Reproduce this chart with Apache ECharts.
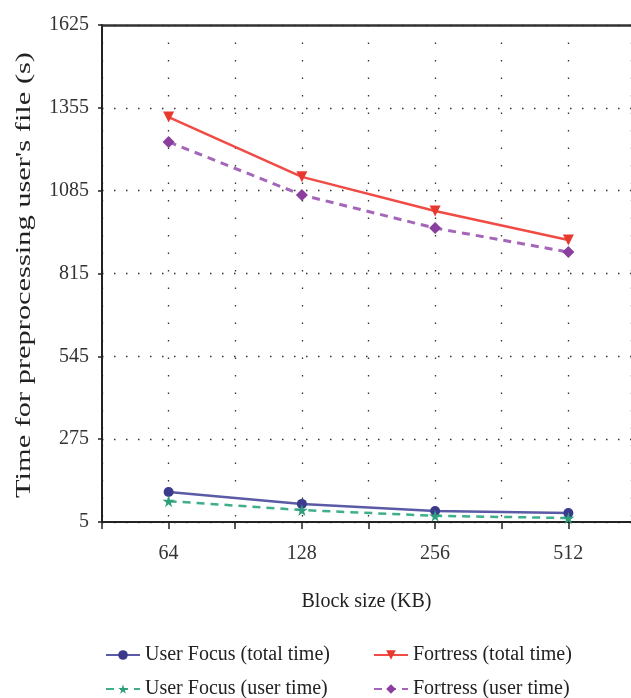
<!DOCTYPE html>
<html><head><meta charset="utf-8">
<script src="https://cdn.jsdelivr.net/npm/echarts@6/dist/echarts.min.js"></script>
<style>html,body{margin:0;padding:0;background:#fff}#c{width:631px;height:698px}</style>
</head><body><div id="c"></div>
<script>
const categories = ['64', '128', '256', '512'];
const yTicks = [5, 275, 545, 815, 1085, 1355, 1625];
const ufTotal = [103, 64, 41, 34];
const ufUser = [73, 44, 25, 18];
const fTotal = [1325, 1130, 1019, 924];
const fUser = [1244, 1071, 963, 885];
const yName = "Time for preprocessing user's file (s)";

const font = 'Liberation Serif';
const toPts = arr => arr.map((v, i) => [i + 1, v]);

const chart = echarts.init(document.getElementById('c'), null, {renderer: 'canvas'});
const legendBase = {
  orient: 'horizontal', itemWidth: 34, itemHeight: 12, itemGap: 10,
  textStyle: {fontFamily: font, fontSize: 20, color: '#222'}
};
chart.setOption({
  animation: false,
  backgroundColor: '#fff',
  grid: {left: 102, top: 25, right: 0, bottom: 176},
  graphic: [{
    type: 'text', x: 25, y: 275, rotation: Math.PI / 2, scaleX: 1.52, scaleY: 1,
    style: {text: yName, fontFamily: font, fontSize: 20, fill: '#222', align: 'center', verticalAlign: 'middle'}
  }],
  legend: [
    Object.assign({}, legendBase, {left: 100, top: 640, data: ['User Focus (total time)']}),
    Object.assign({}, legendBase, {left: 368, top: 640, data: ['Fortress (total time)']}),
    Object.assign({}, legendBase, {left: 100, top: 674, data: ['User Focus (user time)']}),
    Object.assign({}, legendBase, {left: 368, top: 674, data: ['Fortress (user time)']})
  ],
  xAxis: [{
    type: 'value', min: 0.5, max: 4.47, interval: 0.5,
    name: 'Block size (KB)', nameLocation: 'middle', nameGap: 70,
    nameTextStyle: {fontFamily: font, fontSize: 20, color: '#222'},
    axisLine: {lineStyle: {color: '#222', width: 2}},
    axisTick: {show: true, inside: false, length: 7, lineStyle: {color: '#222', width: 1.5}},
    axisLabel: {fontFamily: font, fontSize: 20, color: '#333', margin: 22,
      showMaxLabel: false,
      formatter: v => (Number.isInteger(v) && v >= 1 && v <= 4) ? categories[v - 1] : ''},
    splitLine: {show: true, lineStyle: {color: '#333', type: [1.5, 16], width: 1.3}}
  }, {
    type: 'value', position: 'top', min: 0.5, max: 4.47,
    axisLine: {show: true, onZero: false, lineStyle: {color: '#333', width: 2.5}},
    axisTick: {show: false}, axisLabel: {show: false}, splitLine: {show: false}
  }],
  yAxis: {
    type: 'value', min: yTicks[0], max: yTicks[yTicks.length - 1], interval: yTicks[1] - yTicks[0],
    axisLine: {show: true, lineStyle: {color: '#222', width: 2}},
    axisTick: {show: true, inside: false, length: 4, lineStyle: {color: '#222', width: 1.5}},
    axisLabel: {fontFamily: font, fontSize: 20, color: '#333', margin: 13, formatter: v => String(v)},
    splitLine: {show: true, lineStyle: {color: '#333', type: [1.5, 10.5], width: 1.4}}
  },
  series: [
    {name: 'User Focus (total time)', type: 'line', data: toPts(ufTotal),
     symbol: 'circle', symbolSize: 10,
     lineStyle: {color: '#5b5aa6', width: 2.5}, itemStyle: {color: '#3b3a8c'}},
    {name: 'Fortress (total time)', type: 'line', data: toPts(fTotal),
     symbol: 'triangle', symbolRotate: 180, symbolSize: 11,
     lineStyle: {color: '#f04b45', width: 2.5}, itemStyle: {color: '#e8392f'}},
    {name: 'User Focus (user time)', type: 'line', data: toPts(ufUser),
     symbol: 'path://M50,0 L61,35 L98,35 L68,57 L79,91 L50,70 L21,91 L32,57 L2,35 L39,35 Z', symbolSize: 12,
     lineStyle: {color: '#3fae8a', width: 2.5, type: [8, 6]}, itemStyle: {color: '#2e9e7c'}},
    {name: 'Fortress (user time)', type: 'line', data: toPts(fUser),
     symbol: 'diamond', symbolSize: 12,
     lineStyle: {color: '#a466b8', width: 3, type: [8, 6]}, itemStyle: {color: '#8a3f9e'}}
  ]
});
</script></body></html>
